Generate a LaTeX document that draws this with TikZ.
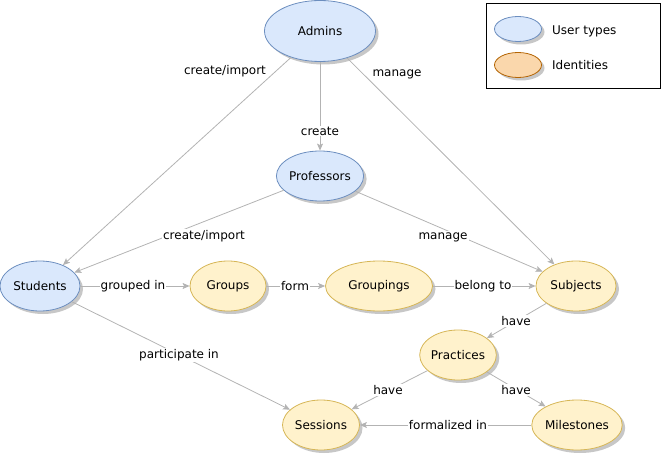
\documentclass[tikz,border=0pt]{standalone}
\usepackage{fontspec}
\setmainfont{DejaVu Sans}
\usetikzlibrary{shapes.geometric,shadows,arrows.meta}
\definecolor{ubfill}{HTML}{DAE8FC}
\definecolor{ubline}{HTML}{6C8EBF}
\definecolor{idfill}{HTML}{FFF2CC}
\definecolor{idline}{HTML}{D6B656}
\definecolor{lgfill}{HTML}{FAD7AC}
\definecolor{lgline}{HTML}{B46504}
\definecolor{edgegray}{HTML}{B3B3B3}
\tikzset{
  x=1pt, y=-1pt,
  every node/.style={font=\fontsize{12}{14}\selectfont, text=black},
  shad/.style={drop shadow={shadow xshift=3pt, shadow yshift=-3pt, fill=black, opacity=0.22}},
  usr/.style={ellipse, draw=ubline, fill=ubfill, line width=0.8pt, inner sep=0pt, minimum height=50pt, shad},
  ident/.style={ellipse, draw=idline, fill=idfill, line width=0.8pt, inner sep=0pt, minimum height=50pt, shad},
  conn/.style={draw=edgegray, line width=0.8pt, -{Stealth[length=7pt,width=6pt,inset=1.5pt]}},
  lbl/.style={fill=white, inner sep=1pt},
}
\begin{document}
\begin{tikzpicture}
\useasboundingbox (0,0) rectangle (666,454);
% legend
\node[draw=black, line width=0.8pt, minimum width=174pt, minimum height=85pt, inner sep=0pt] (legend) at (573,45.5) {};
\node[ellipse, draw=ubline, fill=ubfill, line width=0.8pt, minimum width=47pt, minimum height=25pt, inner sep=0pt, shad] (lgu) at (518,29) {};
\node[ellipse, draw=lgline, fill=lgfill, line width=0.8pt, minimum width=47pt, minimum height=25pt, inner sep=0pt, shad] (lgi) at (518,65) {};
\node[anchor=west, inner sep=0pt] (lgut) at (552,31) {User types};
\node[anchor=west, inner sep=0pt] (lgit) at (552,65) {Identities};
% nodes
\node[usr, minimum width=111pt, minimum height=61pt] (admins) at (320,31) {Admins};
\node[usr, minimum width=86pt] (prof) at (320,176) {Professors};
\node[usr, minimum width=80pt] (stud) at (40,286) {Students};
\node[ident, minimum width=76pt] (groups) at (228,286) {Groups};
\node[ident, minimum width=107pt] (gpings) at (379,286) {Groupings};
\node[ident, minimum width=80pt] (subj) at (576,286) {Subjects};
\node[ident, minimum width=76pt] (prac) at (458,355) {Practices};
\node[ident, minimum width=77pt] (sess) at (321,425) {Sessions};
\node[ident, minimum width=78pt] (miles) at (577,425) {Milestones};
% edges
\draw[conn] (admins) -- (stud);
\draw[conn] (admins) -- (prof);
\draw[conn] (admins) -- (subj);
\draw[conn] (prof) -- (stud);
\draw[conn] (prof) -- (subj);
\draw[conn] (stud) -- (groups);
\draw[conn] (groups) -- (gpings);
\draw[conn] (gpings) -- (subj);
\draw[conn] (subj) -- (prac);
\draw[conn] (stud) -- (sess);
\draw[conn] (prac) -- (sess);
\draw[conn] (prac) -- (miles);
\draw[conn] (miles) -- (sess);
% labels
\node[lbl] (l1) at (225,71) {create/import};
\node[lbl] (l2) at (397,74) {manage};
\node[lbl] (l3) at (320,131) {create};
\node[lbl] (l4) at (204,236) {create/import};
\node[lbl] (l5) at (443,237) {manage};
\node[lbl] (l6) at (133,286) {grouped in};
\node[lbl] (l7) at (295,286) {form};
\node[lbl] (l8) at (483,286) {belong to};
\node[lbl] (l9) at (516,321) {have};
\node[lbl] (l10) at (179,355) {participate in};
\node[lbl] (l11) at (388,390) {have};
\node[lbl] (l12) at (516,390) {have};
\node[lbl] (l13) at (448,425) {formalized in};
\end{tikzpicture}
\end{document}
